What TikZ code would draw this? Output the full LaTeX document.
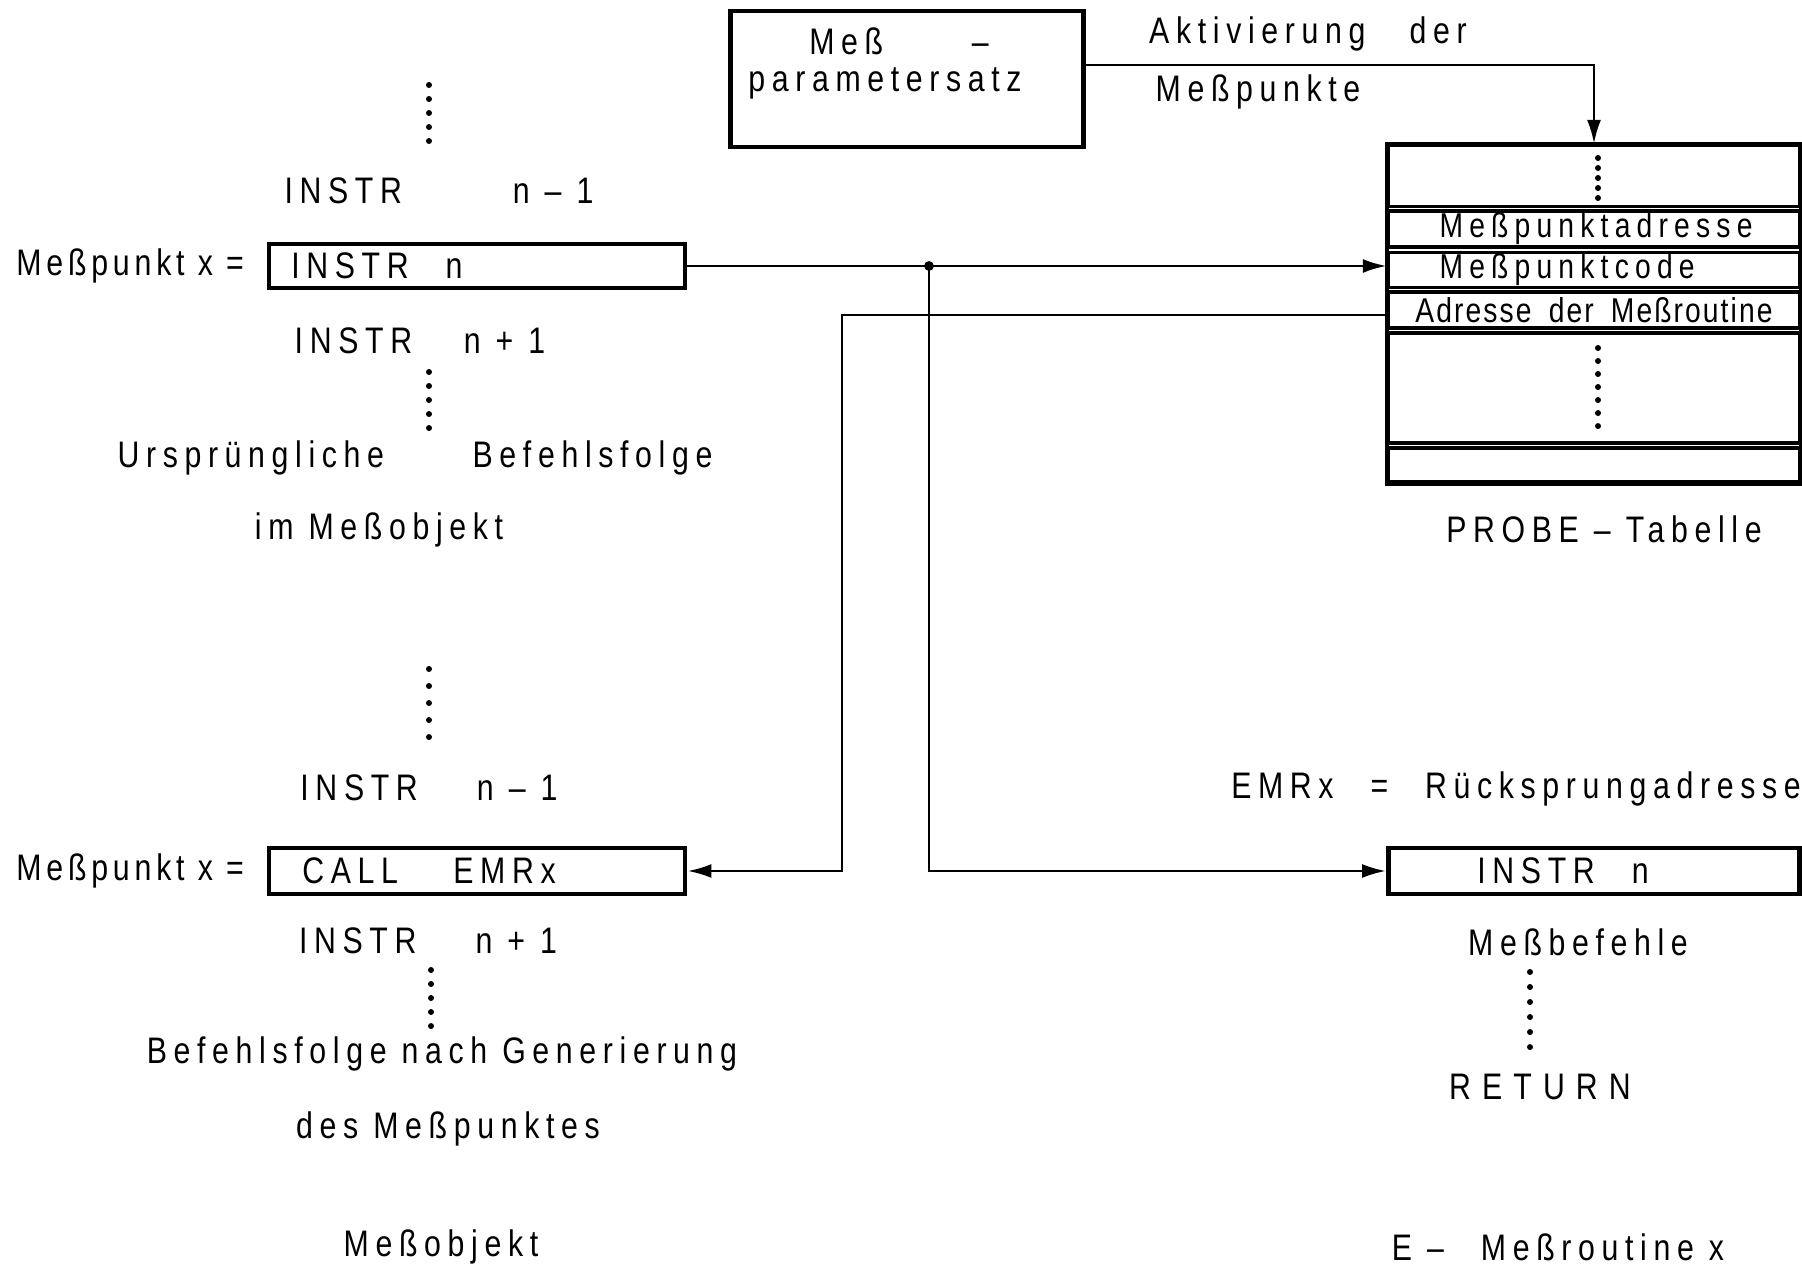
\documentclass[tikz,border=0pt]{standalone}
\usepackage{fontspec}
\setmainfont{Liberation Sans}[FakeStretch=0.82, LetterSpace=18]
\newfontfamily\rowfont{Liberation Sans}[FakeStretch=0.82, LetterSpace=6]
\usetikzlibrary{arrows.meta}

\tikzset{
  lbl/.style={font=\fontsize{10.5}{12}\selectfont, inner sep=0pt},
  rowlbl/.style={font=\fontsize{9.8}{11}\selectfont, inner sep=0pt},
  cell/.style={draw, line width=0.9pt, minimum width=4.11cm, inner sep=0pt},
  instrbox/.style={draw, line width=1.3pt, minimum width=4.16cm, minimum height=0.44cm, inner sep=0pt},
  conn/.style={line width=0.8pt, -{Latex[length=2.4mm,width=1.4mm]}},
  dotcol/.style={line width=1.7pt, line cap=round, dash pattern=on 0pt off 1.4mm}
}

\begin{document}
\begin{tikzpicture}[x=0.01cm, y=-0.01cm]
\useasboundingbox (0,0) rectangle (1802,1270);

% Messparameter box
\node[draw, line width=1.3pt, minimum width=3.53cm, minimum height=1.36cm] (param) at (907,79) {};
\node[lbl] (paramA) at (899,41) {Meß\hspace{2.4em}–};
\node[lbl] (paramB) at (885,83) {parametersatz};
\node[lbl] (aktiv) at (1308,34) {Aktivierung\hspace{1.2em}der};
\node[lbl] (aktivB) at (1258,92) {Meßpunkte};

% PROBE table
\node[cell, minimum height=0.61cm] (rowA) at (1594,176) {};
\node[cell, minimum height=0.36cm] (rowB) at (1594,229) {};
\node[cell, minimum height=0.35cm] (rowC) at (1594,270) {};
\node[cell, minimum height=0.36cm] (rowD) at (1594,310) {};
\node[cell, minimum height=1.10cm] (rowE) at (1594,388) {};
\node[cell, minimum height=0.34cm] (rowF) at (1594,465) {};
\draw[line width=1.3pt] (rowA.north west) rectangle (rowF.south east);
\node[rowlbl, anchor=west] (adr) at ([xshift=0.52cm]rowB.west) {Meßpunktadresse};
\node[rowlbl, anchor=west] (code) at ([xshift=0.52cm]rowC.west) {Meßpunktcode};
\node[rowlbl, font=\fontsize{9.8}{11}\selectfont\rowfont] (mradr) at (rowD) {Adresse\hspace{0.5em}der\hspace{0.5em}Meßroutine};
\draw[dotcol, dash pattern=on 0pt off 1mm] (1598,158) -- (1598,199);
\draw[dotcol, dash pattern=on 0pt off 1.3mm] (1598,348) -- (1598,427);
\node[lbl] (probe) at (1604,529) {PROBE – Tabelle};

% original sequence
\draw[dotcol] (429,85) -- (429,142);
\node[lbl] (instrA) at (439,191) {INSTR\hspace{3em}n – 1};
\node[instrbox] (boxN) at (477,266) {};
\node[lbl, anchor=west] (boxNtxt) at ([xshift=0.24cm]boxN.west) {INSTR\hspace{1em}n};
\node[lbl, anchor=east] (mpA) at ([xshift=-0.22cm]boxN.west) {\addfontfeature{LetterSpace=13}Meßpunkt x =};
\node[lbl] (instrB) at (420,341) {INSTR\hspace{1.4em}n + 1};
\draw[dotcol] (429,372) -- (429,429);
\node[lbl] (ursp) at (415,458) {Ursprüngliche\hspace{2.4em}Befehlsfolge};
\node[lbl] (imobj) at (379,530) {im Meßobjekt};

% generated sequence
\draw[dotcol, dash pattern=on 0pt off 1.7mm] (429,669) -- (429,738);
\node[lbl] (instrC) at (429,788) {INSTR\hspace{1.6em}n – 1};
\node[instrbox, minimum height=0.46cm] (boxC) at (477,871) {};
\node[lbl, anchor=west] (boxCtxt) at ([xshift=0.35cm]boxC.west) {CALL\hspace{1.5em}EMRx};
\node[lbl, anchor=east] (mpB) at ([xshift=-0.22cm]boxC.west) {\addfontfeature{LetterSpace=13}Meßpunkt x =};
\node[lbl] (instrD) at (428,941) {INSTR\hspace{1.6em}n + 1};
\draw[dotcol] (431,970) -- (431,1027);
\node[lbl] (befehl) at (442,1054) {Befehlsfolge nach Generierung};
\node[lbl] (desmp) at (448,1129) {des Meßpunktes};
\node[lbl] (messobj) at (441,1247) {Meßobjekt};

% E-Messroutine
\node[lbl] (emr) at (1516,789) {EMRx\hspace{1em}=\hspace{1em}Rücksprungadresse};
\node[instrbox, minimum width=4.11cm, minimum height=0.46cm] (boxR) at (1594,871) {};
\node[lbl] (boxRtxt) at (1563,871) {INSTR\hspace{1em}n};
\node[lbl] (mbef) at (1578,942) {Meßbefehle};
\draw[dotcol, dash pattern=on 0pt off 1.5mm] (1530,972) -- (1530,1062);
\node[lbl] (ret) at (1540,1087) {R\hspace{0.3em}E\hspace{0.3em}T\hspace{0.3em}U\hspace{0.3em}R\hspace{0.3em}N};
\node[lbl] (emrout) at (1558,1247) {E –\hspace{1em}Meßroutine x};

% connectors
\coordinate (splitx) at (929,0);
\coordinate (turnx) at (842,0);
\coordinate (split) at (boxN.east -| splitx);
\draw[conn] ([yshift=0.14cm]param.east) -| (rowA.north);
\draw[conn] (boxN.east) -- (boxN.east -| rowC.west);
\draw[conn] (split) |- (boxR.west);
\fill (split) circle[radius=1.4pt];
\draw[conn] ([yshift=-0.05cm]rowD.west) -| (turnx |- boxC.east) -- (boxC.east);
\end{tikzpicture}
\end{document}
